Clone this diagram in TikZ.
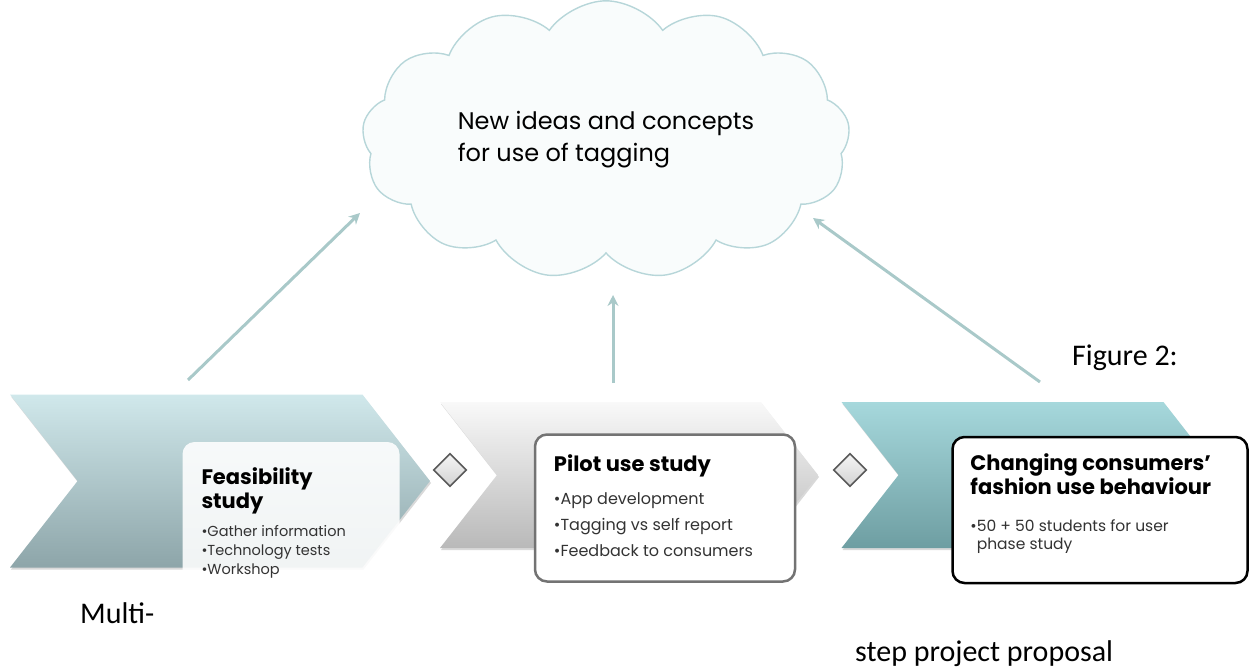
\documentclass[tikz,border=0pt]{standalone}
\usepackage{fontspec}
\setmainfont{Poppins}
\newfontfamily\capfont{Carlito}
\usetikzlibrary{shapes.symbols,shapes.geometric,shadows,arrows.meta,positioning}

\definecolor{linkteal}{HTML}{A9C9C9}
\definecolor{cloudline}{HTML}{B7D6D9}
\definecolor{feastop}{HTML}{D0E8EB}
\definecolor{feasbot}{HTML}{8DA5A9}
\definecolor{changetop}{HTML}{A6D8DC}
\definecolor{changebot}{HTML}{6E9EA2}

\begin{document}
\begin{tikzpicture}[x=1pt, y=-1pt,
  phase/.style={signal, signal to=east, signal from=west, signal pointer angle=104,
    inner sep=0pt, drop shadow={opacity=0.3, shadow xshift=1pt, shadow yshift=-2pt}},
  infobox/.style={rounded corners=12pt, fill=white, inner sep=0pt},
  sep/.style={diamond, draw=black!65, line width=1.6pt, top color=gray!8,
    bottom color=gray!35, minimum size=33pt, inner sep=0pt},
  link/.style={draw=linkteal, line width=3pt, -{Stealth[length=11pt, width=11pt]}},
  title/.style={anchor=north west, inner sep=0pt, align=left,
    font=\bfseries\fontsize{21}{24}\selectfont},
  blist/.style={inner sep=0pt, align=left, anchor=north west, text=black!80},
  caption/.style={anchor=base west, inner sep=0pt, font=\capfont\fontsize{30}{34}\selectfont}
]
\useasboundingbox (0,0) rectangle (1252,668);

\node [cloud, cloud puffs=13, cloud puff arc=110, aspect=1.85, draw=cloudline,
  fill=cloudline!8, line width=1.4pt, minimum width=488, minimum height=265,
  align=left, font=\fontsize{24}{32}\selectfont] (ideas) at (606,140)
  {New ideas and concepts\\for use of tagging};

\node [phase, minimum width=420, minimum height=173, top color=feastop,
  bottom color=feasbot] (feas) at (220,481) {};
\node [phase, minimum width=378, minimum height=146, top color=gray!5,
  bottom color=gray!55] (pilot) at (629,475) {};
\node [phase, minimum width=379, minimum height=146, top color=changetop,
  bottom color=changebot] (change) at (1031,475) {};

\node [sep] (d1) at (450,470) {};
\node [sep] (d2) at (850,470) {};

\node [infobox, fill opacity=0.88, minimum width=217, minimum height=146] (feasbox) at (291,515) {};
\node [infobox, draw=black!55, line width=2.5pt, minimum width=260, minimum height=147] (pilotbox) at (665,508) {};
\node [infobox, draw=black, line width=2.5pt, minimum width=295, minimum height=146] (changebox) at (1100,510) {};

\node [title] (feastitle) at ([xshift=19pt, yshift=-26pt]feasbox.north west) {Feasibility\\study};
\node [blist, below right=11pt and 0pt of feastitle.south west, font=\fontsize{14.5}{19}\selectfont]
  {\textbullet Gather information\\\textbullet Technology tests\\\textbullet Workshop};

\node [title] (pilottitle) at ([xshift=20pt, yshift=-21pt]pilotbox.north west) {Pilot use study};
\node [blist, below right=15pt and 0pt of pilottitle.south west, font=\fontsize{16}{26}\selectfont]
  {\textbullet App development\\\textbullet Tagging vs self report\\\textbullet Feedback to consumers};

\node [title, font=\bfseries\fontsize{21}{22.5}\selectfont] (changetitle)
  at ([xshift=19pt, yshift=-18pt]changebox.north west)
  {Changing consumers'\\fashion use behaviour};
\node [blist, below right=25pt and 0pt of changetitle.south west, font=\fontsize{15.5}{18}\selectfont]
  {\textbullet 50 + 50 students for user\\\hphantom{\textbullet}phase study};

\coordinate (feasup) at (188,380);
\coordinate (pilotup) at (613,383);
\coordinate (changeup) at (1040,382);
\coordinate (ideasL) at (360,213);
\coordinate (ideasM) at (613,295);
\coordinate (ideasR) at (813,218);
\draw [link] (feasup) -- (ideasL);
\draw [link] (pilotup) -- (ideasM);
\draw [link] (changeup) -- (ideasR);

\node [caption] (fig) at (1072,365) {Figure 2:};
\node [caption] (multi) at (80,623) {Multi-};
\node [caption] (proposal) at (855,661) {step project proposal};
\end{tikzpicture}
\end{document}
